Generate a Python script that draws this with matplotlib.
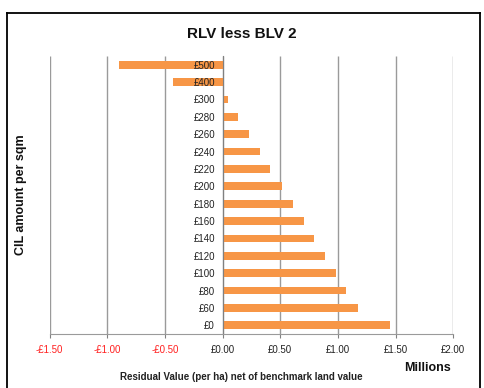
import matplotlib
matplotlib.use("Agg")
import matplotlib.pyplot as plt
from matplotlib.lines import Line2D

plt.rcParams["font.family"] = ["Liberation Sans", "DejaVu Sans"]

# data
cil_levels = ["£0", "£60", "£80", "£100", "£120", "£140", "£160", "£180",
              "£200", "£220", "£240", "£260", "£280", "£300", "£400", "£500"]
residual_millions = [1.449, 1.171, 1.073, 0.981, 0.886, 0.790, 0.704, 0.609,
                     0.513, 0.415, 0.323, 0.225, 0.138, 0.046, -0.43, -0.898]
x_ticks = [-1.5, -1.0, -0.5, 0.0, 0.5, 1.0, 1.5, 2.0]
x_tick_labels = ["-£1.50", "-£1.00", "-£0.50", "£0.00", "£0.50", "£1.00", "£1.50", "£2.00"]

fig = plt.figure(figsize=(4.84, 3.88), dpi=100)
ax = fig.add_axes([0.1023, 0.1392, 0.8343, 0.7165])

pos = list(range(len(cil_levels)))
ax.barh(pos, residual_millions, height=0.45, color="#F79646", zorder=1)

ax.set_xlim(-1.5, 2.0)
ax.set_ylim(-0.5, len(cil_levels) - 0.5)

# gridlines behind bars
ax.vlines(x_ticks, -0.5, len(cil_levels) - 0.5, colors="#9a9a9a", linewidth=1, zorder=0.5)

ax.spines["top"].set_visible(False)
ax.spines["right"].set_visible(False)
ax.spines["left"].set_position(("data", 0))
ax.spines["left"].set_color("#808080")
ax.spines["bottom"].set_color("#9a9a9a")

ax.set_yticks(pos)
ax.set_yticklabels(cil_levels, fontsize=7, color="#222222")
ax.tick_params(axis="y", length=0, pad=5.5)

ax.set_xticks(x_ticks)
ax.set_xticklabels(x_tick_labels, fontsize=7)
ax.tick_params(axis="x", length=3, color="#808080", pad=5)
for lbl, v in zip(ax.get_xticklabels(), x_ticks):
    lbl.set_color("#FF2020" if v < 0 else "#222222")

ax.set_xlabel("Residual Value (per ha) net of benchmark land value",
              fontsize=7, fontweight="bold", color="#222222")
ax.xaxis.set_label_coords(0.474, -0.137)
ax.set_ylabel("CIL amount per sqm", fontsize=9, fontweight="bold", color="#111111")
ax.yaxis.set_label_coords(-0.056, 0.5)
ax.text(0.937, -0.122, "Millions", transform=ax.transAxes, fontsize=9,
        fontweight="bold", ha="center", va="center", color="#111111")

fig.text(241.5 / 484, 1 - 33.5 / 388, "RLV less BLV 2", fontsize=11,
         fontweight="bold", ha="center", va="center", color="#111111")

# chart border
x0, x1, yt = 7 / 484, 480 / 484, 1 - 13 / 388
for xs, ys in [([x0, x0], [0, yt]), ([x0, x1], [yt, yt]), ([x1, x1], [yt, 0])]:
    fig.add_artist(Line2D(xs, ys, color="black", linewidth=1.3, transform=fig.transFigure))

fig.savefig("out.png", dpi=100)
